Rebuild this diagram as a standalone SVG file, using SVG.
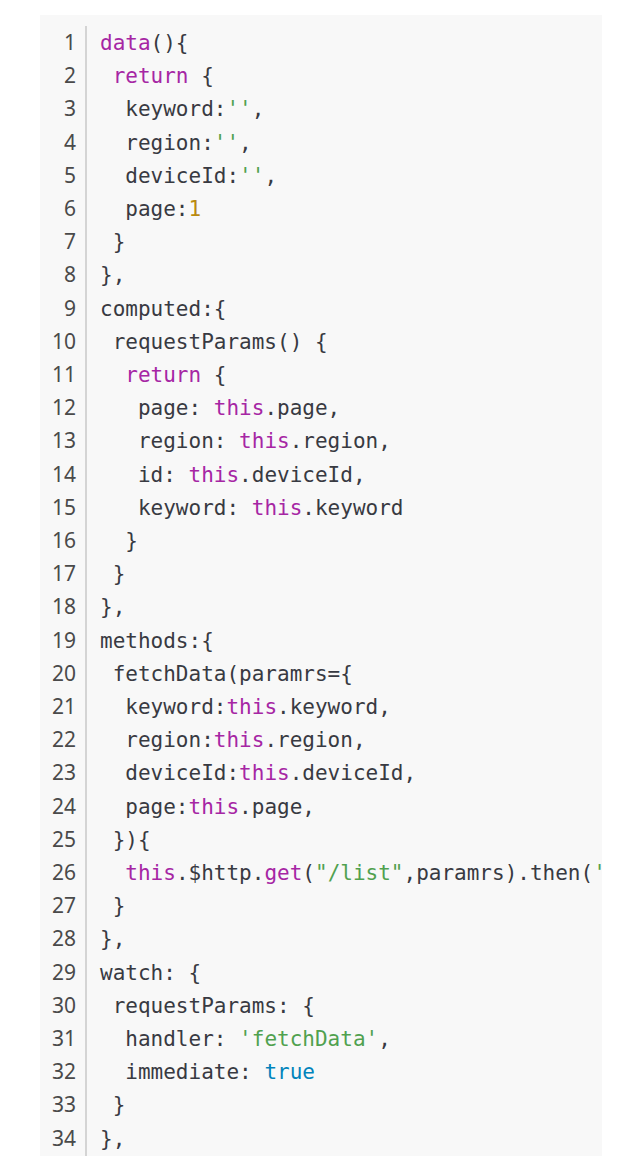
<svg xmlns="http://www.w3.org/2000/svg" width="640" height="1156" viewBox="0 0 640 1156">
<style>
.ln{font-family:"Noto Sans","Open Sans",sans-serif;font-size:21px;fill:#4a4a4a;text-anchor:end}
.c{font-family:"DejaVu Sans Mono","Liberation Mono",monospace;font-size:21px;fill:#383a42;white-space:pre}
.k{fill:#a626a4}
.s{fill:#50a14f}
.n{fill:#b98a10}
.b{fill:#0184bc}
</style>
<defs>
<clipPath id="clip"><rect x="40" y="15" width="562" height="1141"/></clipPath>
</defs>
<rect width="640" height="1156" fill="#ffffff"/>
<g id="panel">
<rect x="40" y="15" width="562" height="1141" fill="#f8f8f8"/>
<rect x="85" y="26" width="2" height="1130" fill="#d4d4d4"/>
</g>
<g id="line-numbers">
<text class="ln" x="76" y="50">1</text>
<text class="ln" x="76" y="83.2">2</text>
<text class="ln" x="76" y="116.4">3</text>
<text class="ln" x="76" y="149.6">4</text>
<text class="ln" x="76" y="182.8">5</text>
<text class="ln" x="76" y="216">6</text>
<text class="ln" x="76" y="249.2">7</text>
<text class="ln" x="76" y="282.4">8</text>
<text class="ln" x="76" y="315.6">9</text>
<text class="ln" x="76" y="348.8">10</text>
<text class="ln" x="76" y="382">11</text>
<text class="ln" x="76" y="415.2">12</text>
<text class="ln" x="76" y="448.4">13</text>
<text class="ln" x="76" y="481.6">14</text>
<text class="ln" x="76" y="514.8">15</text>
<text class="ln" x="76" y="548">16</text>
<text class="ln" x="76" y="581.2">17</text>
<text class="ln" x="76" y="614.4">18</text>
<text class="ln" x="76" y="647.6">19</text>
<text class="ln" x="76" y="680.8">20</text>
<text class="ln" x="76" y="714">21</text>
<text class="ln" x="76" y="747.2">22</text>
<text class="ln" x="76" y="780.4">23</text>
<text class="ln" x="76" y="813.6">24</text>
<text class="ln" x="76" y="846.8">25</text>
<text class="ln" x="76" y="880">26</text>
<text class="ln" x="76" y="913.2">27</text>
<text class="ln" x="76" y="946.4">28</text>
<text class="ln" x="76" y="979.6">29</text>
<text class="ln" x="76" y="1012.8">30</text>
<text class="ln" x="76" y="1046">31</text>
<text class="ln" x="76" y="1079.2">32</text>
<text class="ln" x="76" y="1112.4">33</text>
<text class="ln" x="76" y="1145.6">34</text>
</g>
<g id="code" clip-path="url(#clip)">
<text class="c" x="100" y="50"><tspan class="k">data</tspan>(){</text>
<text class="c" x="112.65" y="83.2"><tspan class="k">return</tspan> {</text>
<text class="c" x="125.3" y="116.4">keyword:<tspan class="s">''</tspan>,</text>
<text class="c" x="125.3" y="149.6">region:<tspan class="s">''</tspan>,</text>
<text class="c" x="125.3" y="182.8">deviceId:<tspan class="s">''</tspan>,</text>
<text class="c" x="125.3" y="216">page:<tspan class="n">1</tspan></text>
<text class="c" x="112.65" y="249.2">}</text>
<text class="c" x="100" y="282.4">},</text>
<text class="c" x="100" y="315.6">computed:{</text>
<text class="c" x="112.65" y="348.8">requestParams() {</text>
<text class="c" x="125.3" y="382"><tspan class="k">return</tspan> {</text>
<text class="c" x="137.95" y="415.2">page: <tspan class="k">this</tspan>.page,</text>
<text class="c" x="137.95" y="448.4">region: <tspan class="k">this</tspan>.region,</text>
<text class="c" x="137.95" y="481.6">id: <tspan class="k">this</tspan>.deviceId,</text>
<text class="c" x="137.95" y="514.8">keyword: <tspan class="k">this</tspan>.keyword</text>
<text class="c" x="125.3" y="548">}</text>
<text class="c" x="112.65" y="581.2">}</text>
<text class="c" x="100" y="614.4">},</text>
<text class="c" x="100" y="647.6">methods:{</text>
<text class="c" x="112.65" y="680.8">fetchData(paramrs={</text>
<text class="c" x="125.3" y="714">keyword:<tspan class="k">this</tspan>.keyword,</text>
<text class="c" x="125.3" y="747.2">region:<tspan class="k">this</tspan>.region,</text>
<text class="c" x="125.3" y="780.4">deviceId:<tspan class="k">this</tspan>.deviceId,</text>
<text class="c" x="125.3" y="813.6">page:<tspan class="k">this</tspan>.page,</text>
<text class="c" x="112.65" y="846.8">}){</text>
<text class="c" x="125.3" y="880"><tspan class="k">this</tspan>.$http.<tspan class="k">get</tspan>(<tspan class="s">"/list"</tspan>,paramrs).then(<tspan class="s">'</tspan></text>
<text class="c" x="112.65" y="913.2">}</text>
<text class="c" x="100" y="946.4">},</text>
<text class="c" x="100" y="979.6">watch: {</text>
<text class="c" x="112.65" y="1012.8">requestParams: {</text>
<text class="c" x="125.3" y="1046">handler: <tspan class="s">'fetchData'</tspan>,</text>
<text class="c" x="125.3" y="1079.2">immediate: <tspan class="b">true</tspan></text>
<text class="c" x="112.65" y="1112.4">}</text>
<text class="c" x="100" y="1145.6">},</text>
</g>
</svg>
